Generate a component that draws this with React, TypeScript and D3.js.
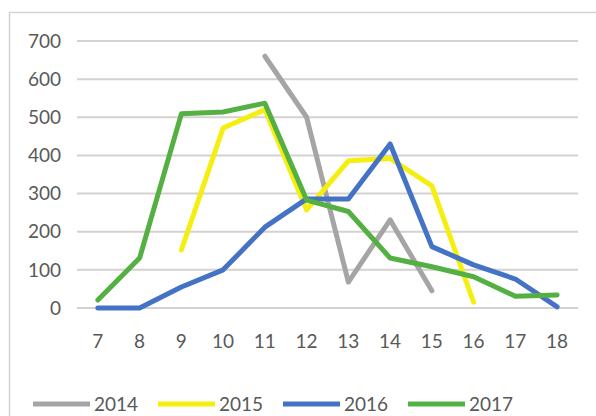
import { useEffect, useRef } from "react";
import * as d3 from "d3";

const weeks = [7, 8, 9, 10, 11, 12, 13, 14, 15, 16, 17, 18];
const yTicks = [0, 100, 200, 300, 400, 500, 600, 700];
const seriesNames = ["2014", "2015", "2016", "2017"];
const seriesColors = ["#a5a5a5", "#f5ee10", "#4472c4", "#55b043"];

// null = no value that week
const v2014 = [null, null, null, null, 660, 500, 68, 231, 45, null, null, null];
const v2015 = [null, null, 152, 472, 520, 257, 386, 392, 320, 15, null, null];
const v2016 = [0, 0, 55, 100, 212, 286, 286, 430, 161, 113, 76, 3];
const v2017 = [21, 131, 509, 514, 537, 283, 253, 131, 108, 82, 31, 34];

const allValues = [v2014, v2015, v2016, v2017];

export default function App() {
  const svgRef = useRef<SVGSVGElement>(null);

  useEffect(() => {
    const svg = d3.select(svgRef.current);
    svg.selectAll("*").remove();

    const W = 596, H = 416;
    const font = "Lato, 'Open Sans', sans-serif";
    const textColor = "#595959";

    svg.append("rect").attr("width", W).attr("height", H).attr("fill", "#fff");
    // chart border
    svg.append("path")
      .attr("d", `M9.5,${H} V12.5 H${W}`)
      .attr("fill", "none")
      .attr("stroke", "#d5d2d2")
      .attr("stroke-width", 1.5);

    const x = d3.scalePoint<number>().domain(weeks).range([77, 578]).padding(0.5);
    const y = d3.scaleLinear().domain([0, 700]).range([308, 41]);

    const grid = svg.append("g");
    grid.selectAll("line")
      .data(yTicks)
      .enter()
      .append("line")
      .attr("x1", 77)
      .attr("x2", 578)
      .attr("y1", d => y(d))
      .attr("y2", d => y(d))
      .attr("stroke", "#d6d0d0")
      .attr("stroke-width", 2);

    svg.append("g").selectAll("text")
      .data(yTicks)
      .enter()
      .append("text")
      .attr("x", 61)
      .attr("y", d => y(d))
      .attr("dy", "0.35em")
      .attr("text-anchor", "end")
      .attr("font-family", font)
      .attr("font-size", 19)
      .attr("fill", textColor)
      .text(d => d);

    svg.append("g").selectAll("text")
      .data(weeks)
      .enter()
      .append("text")
      .attr("x", d => x(d)!)
      .attr("y", 341)
      .attr("dy", "0.35em")
      .attr("text-anchor", "middle")
      .attr("font-family", font)
      .attr("font-size", 19)
      .attr("fill", textColor)
      .text(d => d);

    const line = d3.line<number | null>()
      .defined(d => d !== null)
      .x((_, i) => x(weeks[i])!)
      .y(d => y(d as number));

    allValues.forEach((vals, i) => {
      svg.append("path")
        .datum(vals)
        .attr("d", line)
        .attr("fill", "none")
        .attr("stroke", seriesColors[i])
        .attr("stroke-width", 5)
        .attr("stroke-linejoin", "round")
        .attr("stroke-linecap", "round");
    });

    // legend sits at the bottom edge, as in the source
    const legend = svg.append("g").attr("transform", "translate(33,404)");
    const items = legend.selectAll("g")
      .data(seriesNames)
      .enter()
      .append("g")
      .attr("transform", (d, i) => `translate(${i * 125},0)`);
    items.append("line")
      .attr("x1", 0)
      .attr("x2", 57)
      .attr("stroke", (d, i) => seriesColors[i])
      .attr("stroke-width", 5);
    items.append("text")
      .attr("x", 61)
      .attr("dy", "0.35em")
      .attr("font-family", font)
      .attr("font-size", 19)
      .attr("fill", textColor)
      .text(d => d);
  }, []);

  return (
    <svg ref={svgRef} width={596} height={416}
      style={{ position: "absolute", left: 0, top: 0 }} />
  );
}
